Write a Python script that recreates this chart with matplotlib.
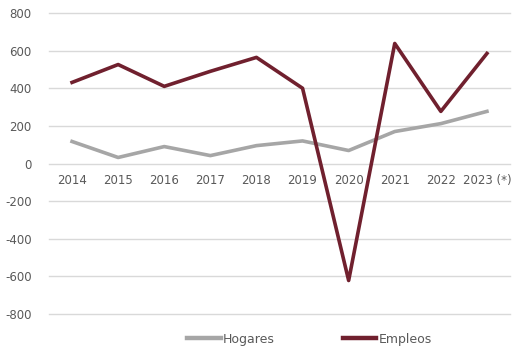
import matplotlib.pyplot as plt

plt.rcParams['axes.unicode_minus'] = False

# Data
years = ['2014', '2015', '2016', '2017', '2018', '2019', '2020', '2021', '2022', '2023 (*)']
hogares = [117, 32, 90, 42, 95, 120, 69, 170, 212, 277]
empleos = [431, 526, 410, 490, 564, 400, -622, 638, 277, 585]

fig = plt.figure(figsize=(5.18, 3.53), dpi=100)
ax = fig.add_axes([49 / 518, 1 - 314 / 353, 461 / 518, 301 / 353])

x = range(len(years))
ax.plot(x, hogares, color='#A6A6A6', linewidth=2.6, label='Hogares')
ax.plot(x, empleos, color='#70202E', linewidth=2.6, label='Empleos')

ax.set_ylim(-800, 800)
ax.set_xlim(-0.5, len(years) - 0.5)
ax.set_yticks(range(-800, 801, 200))
ax.yaxis.grid(True, color='#D9D9D9', linewidth=1)
for gl in ax.get_ygridlines():
    gl.set_clip_on(False)
ax.set_axisbelow(True)
for s in ax.spines.values():
    s.set_visible(False)
ax.tick_params(axis='y', length=0, labelsize=8.5, labelcolor='#595959', pad=12.5)
ax.set_xticks([])

# year labels sit just under the zero line
for i, yr in enumerate(years):
    ax.annotate(yr, (i, 0), xytext=(0, -12), textcoords='offset points',
                ha='center', va='center', fontsize=8.5, color='#595959')

leg = ax.legend(loc='upper center', bbox_to_anchor=(0.565, -0.025), ncol=2, frameon=False,
                fontsize=9, labelcolor='#595959', handlelength=2.7, handletextpad=0.2,
                columnspacing=5.4)
for h in leg.get_lines():
    h.set_linewidth(3.2)

plt.savefig('out.png', dpi=100)
